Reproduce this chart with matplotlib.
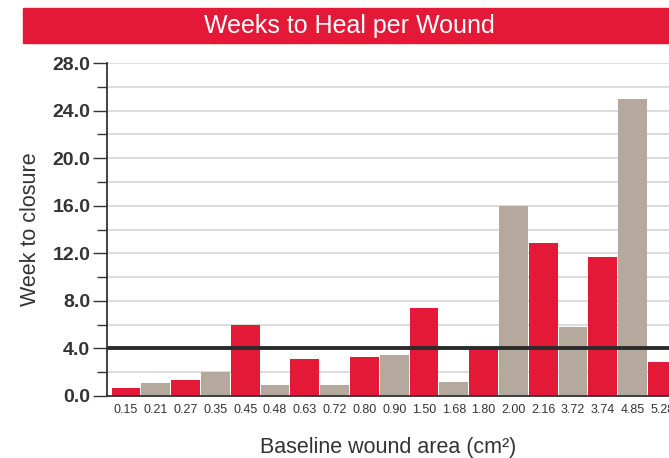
import matplotlib
matplotlib.use("Agg")
import matplotlib.pyplot as plt
from matplotlib.patches import Rectangle
from matplotlib.ticker import MultipleLocator

# Baseline wound area (cm2) and weeks to closure
areas = ["0.15", "0.21", "0.27", "0.35", "0.45", "0.48", "0.63", "0.72", "0.80", "0.90",
         "1.50", "1.68", "1.80", "2.00", "2.16", "3.72", "3.74", "4.85", "5.28"]
weeks = [0.7, 1.1, 1.35, 2.0, 6.0, 0.9, 3.1, 0.9, 3.3, 3.45,
         7.4, 1.2, 4.0, 16.0, 12.9, 5.8, 11.7, 25.0, 2.9]
bar_colors = ["#E31937", "#B5A89D"] * 10
target_weeks = 4.0

RED = "#E31937"
DARK = "#333333"
narrow = ["Liberation Sans Narrow", "Liberation Sans", "DejaVu Sans"]
plain = ["Liberation Sans", "DejaVu Sans"]

fig = plt.figure(figsize=(6.69, 4.58), dpi=100)
ax = fig.add_axes([107 / 669, 1 - 396 / 458, 1 - 107 / 669, 333 / 458])

x = list(range(len(areas)))
ax.bar(x, weeks, width=0.965, color=bar_colors[:len(areas)], zorder=2)
ax.axhline(target_weeks, color="#2b2b2b", linewidth=2.8, zorder=3)

ax.set_ylim(0, 28)
ax.set_xlim(-0.64, 18.22)
ax.yaxis.set_major_locator(MultipleLocator(4))
ax.yaxis.set_minor_locator(MultipleLocator(2))
ax.yaxis.grid(True, which="both", color="#dcdcdc", linewidth=1.4, zorder=0)
ax.set_axisbelow(True)

ax.set_yticks(range(0, 29, 4))
ax.set_yticklabels([f"{v:.1f}" for v in range(0, 29, 4)],
                   family=narrow, fontsize=14, fontweight="bold", color=DARK)
ax.tick_params(axis="y", which="major", length=10, width=1, color=DARK, pad=2)
ax.tick_params(axis="y", which="minor", length=7, width=1, color=DARK)

ax.set_xticks(x)
ax.set_xticklabels(areas, family=narrow, fontsize=9, color=DARK)
ax.tick_params(axis="x", length=0, pad=6)

for side in ["top", "right"]:
    ax.spines[side].set_visible(False)
ax.spines["left"].set_color(DARK)
ax.spines["left"].set_linewidth(1.3)
ax.spines["bottom"].set_color(DARK)
ax.spines["bottom"].set_linewidth(1.3)

ax.set_ylabel("Week to closure", family=plain, fontsize=15.5, color=DARK, labelpad=8)
ax.set_xlabel("Baseline wound area (cm²)", family=plain, fontsize=15.5, color=DARK,
              labelpad=15)

# red title banner
fig.patches.append(Rectangle((23 / 669, 1 - 43 / 458), 1, 35 / 458,
                             transform=fig.transFigure, color=RED, zorder=0))
fig.text(0.522, 1 - 25.5 / 458, "Weeks to Heal per Wound", family=plain,
         fontsize=18, color="white", ha="center", va="center")

fig.savefig("out.png", dpi=100)
